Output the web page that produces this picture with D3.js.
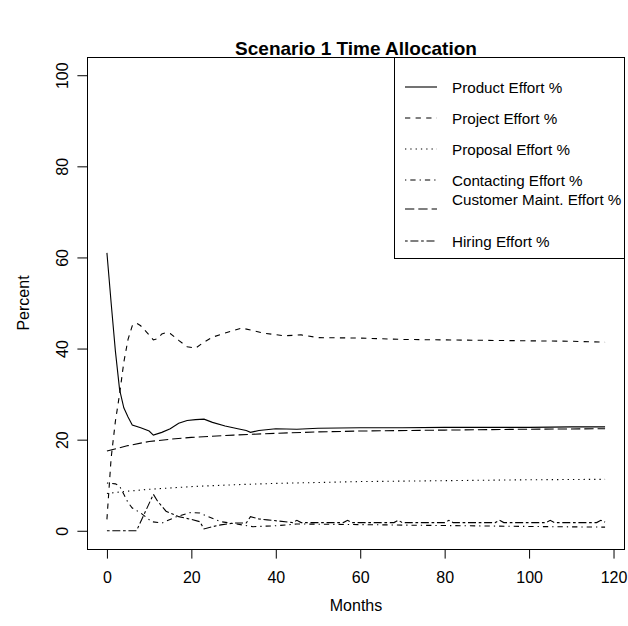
<!DOCTYPE html>
<html>
<head>
<meta charset="utf-8">
<script src="https://cdn.jsdelivr.net/npm/d3@7"></script>
<style>
  body { margin: 0; background: #fff; }
  svg text { font-family: "Liberation Sans", Arial, Helvetica, sans-serif; fill: #000; }
</style>
</head>
<body>
<div id="chart"></div>
<script>
// Series values as [month, percent]
const productEffort = [[0, 61], [1, 50], [2, 39.5], [3, 31], [4, 27], [5, 25], [6, 23.2], [8, 22.6], [10, 21.9],
  [11, 21], [13, 21.6], [15, 22.4], [17, 23.6], [19, 24.2], [21, 24.4], [23, 24.5], [25, 23.8], [28, 23],
  [31, 22.4], [33, 22], [34, 21.6], [36, 22], [40, 22.4], [45, 22.3], [50, 22.5], [60, 22.6], [70, 22.6],
  [80, 22.7], [90, 22.7], [100, 22.7], [110, 22.8], [118, 22.8]];

const projectEffort = [[0, 2.5], [1, 16], [2, 24], [3, 30], [4, 37], [5, 42], [6, 45], [7, 45.6], [8, 45],
  [9, 44], [10, 43], [11, 41.9], [12, 42.2], [13, 43.2], [14, 43.5], [15, 43.3], [17, 41.8], [19, 40.4],
  [21, 40.1], [23, 41.4], [25, 42.5], [28, 43.4], [32, 44.5], [37, 43.4], [42, 42.8], [46, 43], [50, 42.4],
  [60, 42.3], [70, 42], [80, 41.9], [90, 41.8], [100, 41.7], [110, 41.6], [118, 41.4]];

const proposalEffort = [[0, 8.2], [5, 8.7], [10, 9.1], [20, 9.7], [30, 10.1], [40, 10.4], [60, 10.8],
  [80, 11], [100, 11.2], [118, 11.3]];

const contactingEffort = [[0, 10.5], [2, 10.3], [3, 9.8], [4, 8], [5, 6.2], [6, 5], [8, 3.9], [10.6, 2],
  [13, 1.7], [16.5, 3.1], [19.7, 4], [22, 3.9], [24, 3.1], [27, 2], [32, 1.3], [34.6, 0.9], [40, 1.1],
  [45, 1.5], [55, 1.4], [65, 1.3], [75, 1.2], [85, 1.1], [95, 1], [105, 0.9], [118, 0.8]];

const customerMaintEffort = [[0, 17.5], [5, 18.7], [10, 19.6], [15, 20.1], [20, 20.5], [30, 21], [40, 21.4],
  [50, 21.7], [60, 21.9], [80, 22.1], [100, 22.3], [118, 22.4]];

const hiringEffort = [[0, 0], [7, 0], [9, 4], [11, 8], [12, 6.5], [14, 4.3], [17, 3.1], [20, 2.5], [22, 2],
  [23, 0.4], [25, 0.9], [27, 1.3], [30, 1.7], [33, 1.7], [34, 3.1], [36, 2.6], [38, 2.4], [44, 1.8],
  [45, 2.3], [46, 1.8], [56, 1.8], [57, 2.3], [58, 1.8], [68, 1.8], [69, 2.3], [70, 1.8], [80, 1.8],
  [81, 2.3], [82, 1.8], [92, 1.8], [93, 2.3], [94, 1.8], [104, 1.8], [105, 2.3], [106, 1.8], [116, 1.8],
  [117, 2.3], [118, 1.9]];

const seriesNames = ['Product Effort %', 'Project Effort %', 'Proposal Effort %',
  'Contacting Effort %', 'Customer Maint. Effort %', 'Hiring Effort %'];

const xTicks = [0, 20, 40, 60, 80, 100, 120];
const yTicks = [0, 20, 40, 60, 80, 100];

// R line types 1..6, scaled for this resolution
const dashes = ['none', '5.3,5.3', '1.3,4', '1.3,4,5.3,4', '9.3,4', '2.7,2.7,8,2.7'];

const allSeries = [productEffort, projectEffort, proposalEffort, contactingEffort, customerMaintEffort, hiringEffort];

const width = 628, height = 626;
const box = { left: 87, right: 625, top: 57, bottom: 549 };

const svg = d3.select('#chart').append('svg')
  .attr('width', width)
  .attr('height', height);

// R style range: data extent plus 4% each side
const x = d3.scaleLinear().domain([-4.72, 122.72]).range([box.left, box.right]);
const y = d3.scaleLinear().domain([-4, 104]).range([box.bottom, box.top]);

// Title
svg.append('text')
  .attr('x', (box.left + box.right) / 2)
  .attr('y', 55)
  .attr('text-anchor', 'middle')
  .style('font-size', '19px')
  .style('font-weight', 'bold')
  .text('Scenario 1 Time Allocation');

// X axis
const xAxis = svg.append('g')
  .attr('transform', `translate(0,${box.bottom})`)
  .call(d3.axisBottom(x).tickValues(xTicks).tickSize(9.6).tickPadding(13));
xAxis.select('.domain').remove();
xAxis.selectAll('line').attr('stroke', '#000');
xAxis.selectAll('text').style('font-size', '16px').attr('font-family', null);

// Y axis, labels parallel to the axis
const yAxis = svg.append('g')
  .attr('transform', `translate(${box.left},0)`)
  .call(d3.axisLeft(y).tickValues(yTicks).tickSize(9.6));
yAxis.select('.domain').remove();
yAxis.selectAll('line').attr('stroke', '#000');
yAxis.selectAll('text')
  .attr('transform', 'rotate(-90)')
  .attr('x', 0)
  .attr('y', -19)
  .attr('dy', null)
  .attr('text-anchor', 'middle')
  .attr('font-family', null)
  .style('font-size', '16px');

// Axis titles
svg.append('text')
  .attr('x', (box.left + box.right) / 2)
  .attr('y', 611)
  .attr('text-anchor', 'middle')
  .style('font-size', '16px')
  .text('Months');

svg.append('text')
  .attr('transform', `translate(29,${(box.top + box.bottom) / 2}) rotate(-90)`)
  .attr('text-anchor', 'middle')
  .style('font-size', '16px')
  .text('Percent');

// Plot box
svg.append('rect')
  .attr('x', box.left + 0.5)
  .attr('y', box.top + 0.5)
  .attr('width', box.right - box.left - 1)
  .attr('height', box.bottom - box.top)
  .attr('fill', 'none')
  .attr('stroke', '#000');

// Lines
const line = d3.line()
  .x(d => x(d[0]))
  .y(d => y(d[1]));

svg.selectAll('.series')
  .data(allSeries)
  .enter()
  .append('path')
  .attr('class', 'series')
  .attr('d', line)
  .attr('fill', 'none')
  .attr('stroke', '#000')
  .attr('stroke-width', 1.1)
  .attr('stroke-dasharray', (d, i) => dashes[i]);

// Legend (top right)
const legend = svg.append('g');
legend.append('rect')
  .attr('x', 394.5)
  .attr('y', box.top + 0.5)
  .attr('width', box.right - 394.5 - 0.5)
  .attr('height', 258 - box.top)
  .attr('fill', '#fff')
  .attr('stroke', '#000');

const rowY = [87, 118, 149, 180, 209, 241];
const textY = [87, 118, 149, 180, 199, 241];

seriesNames.forEach((name, i) => {
  legend.append('line')
    .attr('x1', 405)
    .attr('x2', 437)
    .attr('y1', rowY[i])
    .attr('y2', rowY[i])
    .attr('stroke', '#000')
    .attr('stroke-width', 1.1)
    .attr('stroke-dasharray', dashes[i]);
  legend.append('text')
    .attr('x', 452)
    .attr('y', textY[i] + 5.5)
    .style('font-size', '15.2px')
    .text(name);
});
</script>
</body>
</html>
